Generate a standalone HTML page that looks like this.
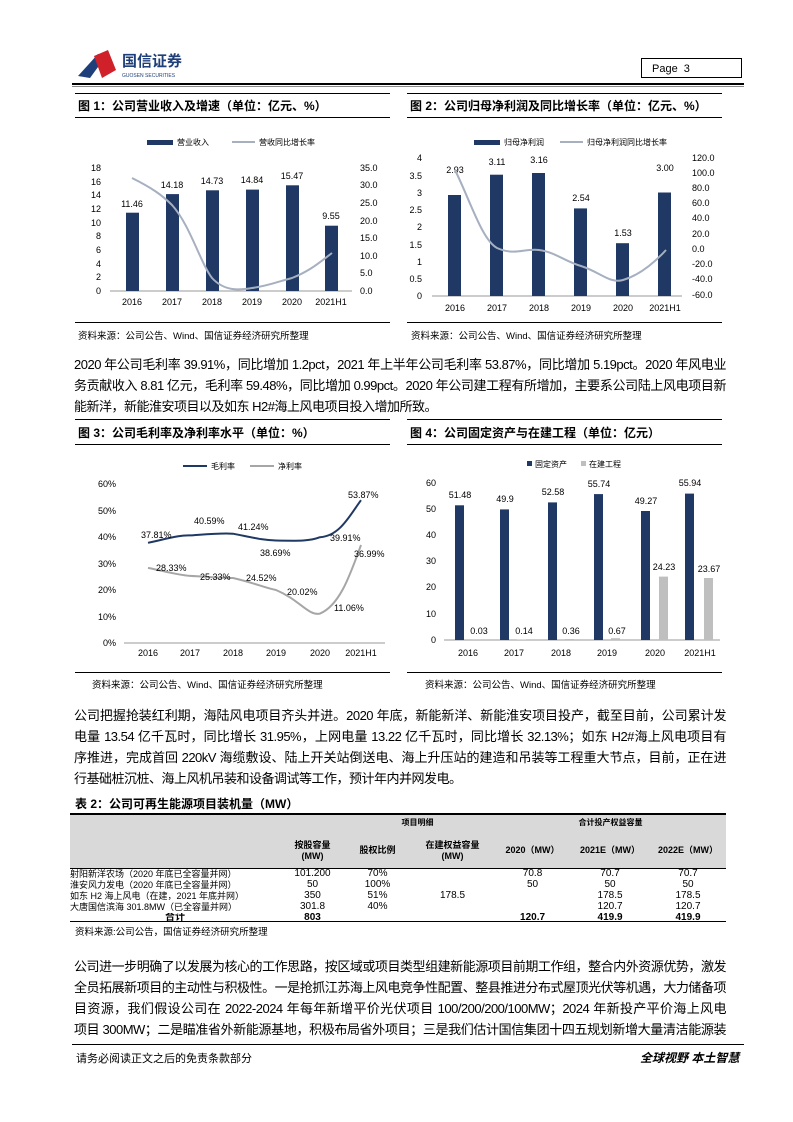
<!DOCTYPE html>
<html><head><meta charset="utf-8"><style>
body{margin:0;width:793px;height:1122px;background:#fff;position:relative;font-family:"Liberation Sans","Noto Sans CJK SC",sans-serif;color:#000;overflow:hidden}
.a{position:absolute}
.ft{font-weight:bold;font-size:12px}
.p{position:absolute;left:74px;width:652px;font-size:13px;line-height:21px;letter-spacing:-0.5px}
.p div{white-space:nowrap;text-align:justify;text-align-last:justify}
.p div.l{text-align-last:left}
.src{font-size:9.5px;position:absolute}
svg text{font-family:"Liberation Sans","Noto Sans CJK SC",sans-serif}
table{border-collapse:collapse;font-size:10px;table-layout:fixed}
td{padding:0;line-height:10.5px;white-space:nowrap;overflow:hidden}
</style></head><body>
<svg class="a" style="left:76px;top:46px" width="130" height="36">
<polygon points="2,30 22,8 30,10 14,32" fill="#1f3f7a"/>
<polygon points="18,10 32,4 40,24 26,32" fill="#d0202a"/>
<text x="46" y="20" font-size="15" fill="#1f3f7a" font-weight="bold">国信证券</text>
<text x="46" y="31" font-size="5" fill="#1f3f7a">GUOSEN SECURITIES</text>
</svg>
<div class="a" style="left:641px;top:58px;width:101px;height:20px;border:1px solid #000;font-size:11px;line-height:20px;padding-left:10px;box-sizing:border-box">Page&nbsp;&nbsp;3</div>
<div class="a" style="left:72px;top:83px;width:672px;height:2px;background:#000"></div>
<div class="a" style="left:72px;top:86px;width:672px;height:1px;background:#888"></div>

<div class="a" style="left:75px;top:93px;width:315px;height:1px;background:#000"></div>
<div class="a ft" style="left:78px;top:97px">图 1：公司营业收入及增速（单位：亿元、%）</div>
<div class="a" style="left:75px;top:117px;width:315px;height:1px;background:#000"></div>
<div class="a" style="left:407px;top:93px;width:315px;height:1px;background:#000"></div>
<div class="a ft" style="left:410px;top:97px">图 2：公司归母净利润及同比增长率（单位：亿元、%）</div>
<div class="a" style="left:407px;top:117px;width:315px;height:1px;background:#000"></div>

<svg class="a" style="left:0;top:0" width="793" height="1122" font-size="9">
<g>
<rect x="147" y="140" width="26" height="5" fill="#1f3864"/><text x="177" y="145" font-size="8">营业收入</text>
<line x1="232" y1="142" x2="255" y2="142" stroke="#a6b0c0" stroke-width="2"/><text x="259" y="145" font-size="8">营收同比增长率</text>
<g text-anchor="end"><text x="101" y="294">0</text><text x="101" y="280">2</text><text x="101" y="267">4</text><text x="101" y="253">6</text><text x="101" y="239">8</text><text x="101" y="226">10</text><text x="101" y="212">12</text><text x="101" y="198">14</text><text x="101" y="185">16</text><text x="101" y="171">18</text></g>
<g><text x="360" y="294">0.0</text><text x="360" y="276">5.0</text><text x="360" y="259">10.0</text><text x="360" y="241">15.0</text><text x="360" y="224">20.0</text><text x="360" y="206">25.0</text><text x="360" y="188">30.0</text><text x="360" y="171">35.0</text></g>
<line x1="110" y1="291" x2="352" y2="291" stroke="#999"/>
<g fill="#1f3864"><rect x="126" y="212.7" width="13" height="78.3"/><rect x="166" y="194.1" width="13" height="96.9"/><rect x="206" y="190.3" width="13" height="100.7"/><rect x="246" y="189.6" width="13" height="101.4"/><rect x="286" y="185.3" width="13" height="105.7"/><rect x="325" y="225.7" width="13" height="65.3"/></g>
<g text-anchor="middle"><text x="132" y="207">11.46</text><text x="172" y="188">14.18</text><text x="212" y="184">14.73</text><text x="252" y="183">14.84</text><text x="292" y="179">15.47</text><text x="331" y="219">9.55</text>
<text x="132" y="305">2016</text><text x="172" y="305">2017</text><text x="212" y="305">2018</text><text x="252" y="305">2019</text><text x="292" y="305">2020</text><text x="331" y="305">2021H1</text></g>
<path d="M132,178 C152,188 162,195 172,205 C190,225 200,262 212,278 C225,292 240,290 252,288 C268,286 280,281 292,278 C310,271 320,262 332,253" fill="none" stroke="#a6b0c0" stroke-width="2"/>
</g>
<g>
<rect x="474" y="140" width="26" height="5" fill="#1f3864"/><text x="504" y="145" font-size="8">归母净利润</text>
<line x1="560" y1="142" x2="583" y2="142" stroke="#a6b0c0" stroke-width="2"/><text x="587" y="145" font-size="8">归母净利润同比增长率</text>
<g text-anchor="end"><text x="422" y="299">0</text><text x="422" y="282">0.5</text><text x="422" y="265">1</text><text x="422" y="248">1.5</text><text x="422" y="230">2</text><text x="422" y="213">2.5</text><text x="422" y="196">3</text><text x="422" y="179">3.5</text><text x="422" y="161">4</text></g>
<g><text x="692" y="161">120.0</text><text x="692" y="176">100.0</text><text x="692" y="191">80.0</text><text x="692" y="206">60.0</text><text x="692" y="221">40.0</text><text x="692" y="237">20.0</text><text x="692" y="252">0.0</text><text x="692" y="267">-20.0</text><text x="692" y="282">-40.0</text><text x="692" y="298">-60.0</text></g>
<line x1="432" y1="296" x2="682" y2="296" stroke="#999"/>
<g fill="#1f3864"><rect x="448" y="195" width="13" height="101"/><rect x="490" y="174.7" width="13" height="121.3"/><rect x="532" y="173" width="13" height="123"/><rect x="574" y="208.4" width="13" height="87.6"/><rect x="616" y="243.2" width="13" height="52.8"/><rect x="658" y="192.5" width="13" height="103.5"/></g>
<g text-anchor="middle"><text x="455" y="173">2.93</text><text x="497" y="165">3.11</text><text x="539" y="163">3.16</text><text x="581" y="201">2.54</text><text x="623" y="236">1.53</text><text x="665" y="171">3.00</text>
<text x="455" y="311">2016</text><text x="497" y="311">2017</text><text x="539" y="311">2018</text><text x="581" y="311">2019</text><text x="623" y="311">2020</text><text x="665" y="311">2021H1</text></g>
<path d="M455,170 C470,200 482,240 497,248 C515,256 525,248 539,250 C555,252 566,262 581,266 C600,272 610,284 623,280 C640,275 655,262 666,250" fill="none" stroke="#a6b0c0" stroke-width="2"/>
</g>
</svg>

<div class="src" style="left:78px;top:328px">资料来源：公司公告、Wind、国信证券经济研究所整理</div>
<div class="src" style="left:411px;top:328px">资料来源：公司公告、Wind、国信证券经济研究所整理</div>
<div class="a" style="left:75px;top:322px;width:315px;height:1px;background:#000"></div>
<div class="a" style="left:407px;top:322px;width:315px;height:1px;background:#000"></div>

<div class="p" style="top:354px">
<div>2020 年公司毛利率 39.91%，同比增加 1.2pct，2021 年上半年公司毛利率 53.87%，同比增加 5.19pct。2020 年风电业</div>
<div>务贡献收入 8.81 亿元，毛利率 59.48%，同比增加 0.99pct。2020 年公司建工程有所增加，主要系公司陆上风电项目新</div>
<div class="l">能新洋，新能淮安项目以及如东 H2#海上风电项目投入增加所致。</div>
</div>

<div class="a" style="left:75px;top:419px;width:315px;height:1px;background:#000"></div>
<div class="a ft" style="left:78px;top:424px">图 3：公司毛利率及净利率水平（单位：%）</div>
<div class="a" style="left:75px;top:444px;width:315px;height:1px;background:#000"></div>
<div class="a" style="left:407px;top:419px;width:315px;height:1px;background:#000"></div>
<div class="a ft" style="left:410px;top:424px">图 4：公司固定资产与在建工程（单位：亿元）</div>
<div class="a" style="left:407px;top:444px;width:315px;height:1px;background:#000"></div>

<svg class="a" style="left:0;top:0" width="793" height="1122" font-size="9">
<g>
<line x1="183" y1="466" x2="207" y2="466" stroke="#1f3864" stroke-width="2"/><text x="211" y="469" font-size="8">毛利率</text>
<line x1="250" y1="466" x2="274" y2="466" stroke="#a6a6a6" stroke-width="2"/><text x="278" y="469" font-size="8">净利率</text>
<g text-anchor="end"><text x="116" y="646">0%</text><text x="116" y="620">10%</text><text x="116" y="593">20%</text><text x="116" y="567">30%</text><text x="116" y="540">40%</text><text x="116" y="514">50%</text><text x="116" y="487">60%</text></g>
<line x1="124" y1="643" x2="385" y2="643" stroke="#999"/>
<path d="M148,542.8 C170,538 180,535 190,535.4 C210,534 220,533 233,533.7 C255,538 262,540 276,540.5 C300,541 310,541 320,537.2 C340,536 350,515 361,500.2" fill="none" stroke="#1f3864" stroke-width="2"/>
<path d="M148,567.9 C168,572 178,575 190,575.9 C210,577 220,578 233,578 C255,583 265,588 276,590 C300,600 308,616 320,613.6 C340,605 350,575 361,545" fill="none" stroke="#a6a6a6" stroke-width="2"/>
<text x="141" y="538">37.81%</text><text x="194" y="524">40.59%</text><text x="238" y="530">41.24%</text><text x="260" y="556">38.69%</text><text x="330" y="541">39.91%</text><text x="348" y="498">53.87%</text>
<text x="156" y="571">28.33%</text><text x="200" y="580">25.33%</text><text x="246" y="581">24.52%</text><text x="287" y="595">20.02%</text><text x="334" y="611">11.06%</text><text x="354" y="557">36.99%</text>
<g text-anchor="middle"><text x="148" y="656">2016</text><text x="190" y="656">2017</text><text x="233" y="656">2018</text><text x="276" y="656">2019</text><text x="320" y="656">2020</text><text x="361" y="656">2021H1</text></g>
</g>
<g>
<rect x="527" y="461" width="5" height="5" fill="#1f3864"/><text x="535" y="467" font-size="8">固定资产</text>
<rect x="581" y="461" width="5" height="5" fill="#bfbfbf"/><text x="589" y="467" font-size="8">在建工程</text>
<g text-anchor="end"><text x="436" y="643">0</text><text x="436" y="617">10</text><text x="436" y="590">20</text><text x="436" y="564">30</text><text x="436" y="538">40</text><text x="436" y="512">50</text><text x="436" y="486">60</text></g>
<line x1="444" y1="640" x2="720" y2="640" stroke="#999"/>
<g fill="#1f3864"><rect x="455" y="505.3" width="9" height="134.7"/><rect x="500" y="509.4" width="9" height="130.6"/><rect x="548" y="502.4" width="9" height="137.6"/><rect x="594" y="494.1" width="9" height="145.9"/><rect x="641" y="511" width="9" height="129"/><rect x="685" y="493.6" width="9" height="146.4"/></g>
<g fill="#bfbfbf"><rect x="472" y="639.9" width="9" height="0.1"/><rect x="517" y="639.6" width="9" height="0.4"/><rect x="565" y="639" width="9" height="1"/><rect x="611" y="638.2" width="9" height="1.8"/><rect x="659" y="576.6" width="9" height="63.4"/><rect x="704" y="578" width="9" height="62"/></g>
<g text-anchor="middle"><text x="460" y="498">51.48</text><text x="505" y="502">49.9</text><text x="553" y="495">52.58</text><text x="599" y="487">55.74</text><text x="646" y="504">49.27</text><text x="690" y="486">55.94</text>
<text x="479" y="634">0.03</text><text x="524" y="634">0.14</text><text x="571" y="634">0.36</text><text x="617" y="634">0.67</text><text x="664" y="570">24.23</text><text x="709" y="572">23.67</text>
<text x="468" y="656">2016</text><text x="514" y="656">2017</text><text x="561" y="656">2018</text><text x="607" y="656">2019</text><text x="655" y="656">2020</text><text x="700" y="656">2021H1</text></g>
</g>
</svg>
<div class="a" style="left:75px;top:672px;width:315px;height:1px;background:#000"></div>
<div class="a" style="left:407px;top:672px;width:315px;height:1px;background:#000"></div>
<div class="src" style="left:92px;top:677px">资料来源：公司公告、Wind、国信证券经济研究所整理</div>
<div class="src" style="left:425px;top:677px">资料来源：公司公告、Wind、国信证券经济研究所整理</div>

<div class="p" style="top:705px">
<div>公司把握抢装红利期，海陆风电项目齐头并进。2020 年底，新能新洋、新能淮安项目投产，截至目前，公司累计发</div>
<div>电量 13.54 亿千瓦时，同比增长 31.95%，上网电量 13.22 亿千瓦时，同比增长 32.13%；如东 H2#海上风电项目有</div>
<div>序推进，完成首回 220kV 海缆敷设、陆上开关站倒送电、海上升压站的建造和吊装等工程重大节点，目前，正在进</div>
<div class="l">行基础桩沉桩、海上风机吊装和设备调试等工作，预计年内并网发电。</div>
</div>

<div class="a ft" style="left:75px;top:795px">表 2：公司可再生能源项目装机量（MW）</div>
<div class="a" style="left:70px;top:813px;width:656px;height:2px;background:#000"></div>
<div class="a" style="left:70px;top:815px;width:656px;height:53px;background:#d9d9d9"></div>
<div class="a" style="left:70px;top:868px;width:656px;height:1px;background:#000"></div>
<table class="a" style="left:70px;top:815px;width:656px">
<colgroup><col style="width:210px"><col style="width:65px"><col style="width:65px"><col style="width:85px"><col style="width:75px"><col style="width:80px"><col></colgroup>
<tr style="height:17px;font-weight:bold;font-size:8px"><td></td><td colspan="3" style="text-align:center;padding-left:60px">项目明细</td><td colspan="3" style="text-align:center">合计投产权益容量</td></tr>
<tr style="height:37px;font-weight:bold;font-size:9px;text-align:center"><td></td><td>按股容量<br>(MW)</td><td>股权比例</td><td>在建权益容量<br>(MW)</td><td>2020（MW）</td><td>2021E（MW）</td><td>2022E（MW）</td></tr>
<tr style="height:11px;text-align:center"><td style="text-align:left;font-size:9px">射阳新洋农场（2020 年底已全容量并网）</td><td>101.200</td><td>70%</td><td></td><td>70.8</td><td>70.7</td><td>70.7</td></tr>
<tr style="height:11px;text-align:center"><td style="text-align:left;font-size:9px">淮安风力发电（2020 年底已全容量并网）</td><td>50</td><td>100%</td><td></td><td>50</td><td>50</td><td>50</td></tr>
<tr style="height:11px;text-align:center"><td style="text-align:left;font-size:9px">如东 H2 海上风电（在建，2021 年底并网）</td><td>350</td><td>51%</td><td>178.5</td><td></td><td>178.5</td><td>178.5</td></tr>
<tr style="height:11px;text-align:center"><td style="text-align:left;font-size:9px">大唐国信滨海 301.8MW（已全容量并网）</td><td>301.8</td><td>40%</td><td></td><td></td><td>120.7</td><td>120.7</td></tr>
<tr style="height:11px;text-align:center;font-weight:bold"><td>合计</td><td>803</td><td></td><td></td><td>120.7</td><td>419.9</td><td>419.9</td></tr>
</table>
<div class="a" style="left:70px;top:921px;width:656px;height:1px;background:#000"></div>
<div class="src" style="left:75px;top:924px">资料来源:公司公告，国信证券经济研究所整理</div>

<div class="p" style="top:956px">
<div>公司进一步明确了以发展为核心的工作思路，按区域或项目类型组建新能源项目前期工作组，整合内外资源优势，激发</div>
<div>全员拓展新项目的主动性与积极性。一是抢抓江苏海上风电竞争性配置、整县推进分布式屋顶光伏等机遇，大力储备项</div>
<div>目资源，我们假设公司在 2022-2024 年每年新增平价光伏项目 100/200/200/100MW；2024 年新投产平价海上风电</div>
<div>项目 300MW；二是瞄准省外新能源基地，积极布局省外项目；三是我们估计国信集团十四五规划新增大量清洁能源装</div>
</div>

<div class="a" style="left:72px;top:1044px;width:672px;height:1px;background:#000"></div>
<div class="a" style="left:76px;top:1050px;font-size:11px">请务必阅读正文之后的免责条款部分</div>
<div class="a" style="left:640px;top:1049px;font-size:12px;font-weight:bold;font-style:italic">全球视野 本土智慧</div>
</body></html>
